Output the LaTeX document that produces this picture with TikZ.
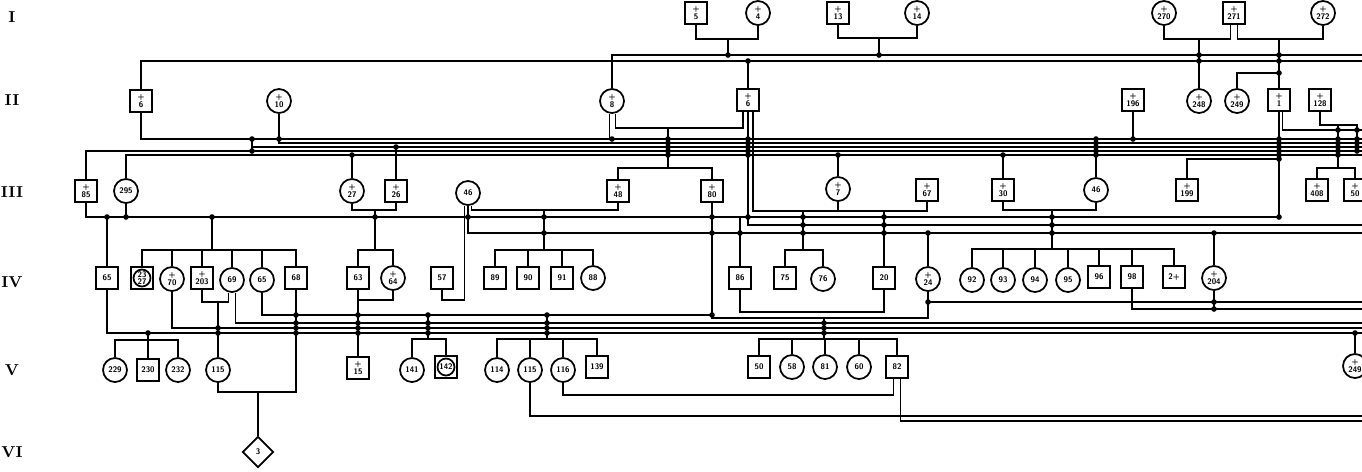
\documentclass[tikz,border=0pt]{standalone}
\usepackage{tikz}
\usetikzlibrary{positioning, shapes.geometric, calc}
\newcommand{\pedfont}{\fontsize{4.6}{4.2}\selectfont\bfseries\sffamily}

\begin{document}
\begin{tikzpicture}[
    x=0.02cm, y=-0.02cm,
    male/.style={draw, line width=1pt, minimum size=0.44cm, inner sep=0pt, font=\pedfont, align=center, fill=white},
    female/.style={draw, circle, line width=1pt, minimum size=0.48cm, inner sep=0pt, font=\pedfont, align=center, fill=white},
    unknown/.style={draw, diamond, aspect=1, line width=1pt, minimum size=0.62cm, inner sep=0pt, font=\pedfont, fill=white},
    gen/.style={font=\fontsize{9}{9}\selectfont\bfseries},
    line/.style={line width=0.95pt},
]
    \useasboundingbox (0,0) rectangle (1362,471);

    % Generations
    \node[gen] (gI)   at (12,17)  {I};
    \node[gen] (gII)  at (12,100) {II};
    \node[gen] (gIII) at (12,192) {III};
    \node[gen] (gIV)  at (12,282) {IV};
    \node[gen] (gV)   at (12,370) {V};
    \node[gen] (gVI)  at (12,452) {VI};

    % Buses (right edge) and junctions
    \foreach \n/\y in {ba/55, bb/61, bs/130, bc/139, bd/143, be/147, bf/151, bg/155,
                       bh/217, bi/225, bj/233, bk/302, bl/309, bn/323, bo/328, bp/333, bq/416, br/421}
        \coordinate (\n) at (1362,\y);
    \coordinate (bm) at (713,315);
    \coordinate (m1) at (728,39);
    \coordinate (m2) at (879,38);
    \coordinate (m3) at (1199,39);
    \coordinate (m4) at (1279,39);
    \coordinate (k1) at (1279,73);
    \coordinate (j1) at (252,139);
    \coordinate (m5) at (668,128);
    \coordinate (k2) at (668,168);
    \coordinate (k3) at (803,211);
    \coordinate (k4) at (1279,217);
    \coordinate (j2) at (212,217);
    \coordinate (j3) at (212,250);
    \coordinate (m6) at (375,210);
    \coordinate (j4) at (375,250);
    \coordinate (k5) at (544,210);
    \coordinate (j5) at (544,250);
    \coordinate (k6) at (455,300);
    \coordinate (j6) at (803,250);
    \coordinate (k7) at (812,312);
    \coordinate (k8) at (824,318);
    \coordinate (k9) at (824,339);
    \coordinate (k10) at (1052,210);
    \coordinate (j7) at (1052,249);
    \coordinate (k15) at (1279,159);
    \coordinate (k17) at (1357,125);
    \coordinate (k19) at (1357,153);
    \coordinate (k18) at (1338,168);
    \coordinate (m7) at (218,302);
    \coordinate (m8) at (375,300);
    \coordinate (j8) at (148,340);
    \coordinate (j9) at (428,339);
    \coordinate (j10) at (547,339);
    \coordinate (k13) at (258,392);
    \coordinate (k14) at (720,395);

    % Gen I
    \node[male]   (s5)   at (696,13)  {+\\5};
    \node[female] (c4)   at (758,13)  {+\\4};
    \node[male]   (s13)  at (838,13)  {+\\13};
    \node[female] (c14)  at (917,13)  {+\\14};
    \node[female] (c270) at (1164,13) {+\\270};
    \node[male]   (s271) at (1234,13) {+\\271};
    \node[female] (c272) at (1323,13) {+\\272};

    % Gen II
    \node[male]   (s16)  at (141,101)  {+\\6};
    \node[female] (c10)  at (279,101)  {+\\10};
    \node[female] (c8)   at (612,101)  {+\\8};
    \node[male]   (s6)   at (748,100)  {+\\6};
    \node[male]   (s196) at (1133,100) {+\\196};
    \node[female] (c248) at (1199,101) {+\\248};
    \node[female] (c249) at (1237,101) {+\\249};
    \node[male]   (s1)   at (1279,100) {+\\1};
    \node[male]   (s128) at (1320,100) {+\\128};

    % Gen III
    \node[male]   (s85)  at (86,191)   {+\\85};
    \node[female] (c295) at (126,191)  {295};
    \node[female] (c27)  at (352,191)  {+\\27};
    \node[male]   (s26)  at (396,191)  {+\\26};
    \node[female] (c46)  at (468,193)  {46};
    \node[male]   (s48)  at (618,191)  {+\\48};
    \node[male]   (s80)  at (712,191)  {+\\80};
    \node[female] (c7)   at (838,189)  {+\\7};
    \node[male]   (s67)  at (927,190)  {+\\67};
    \node[male]   (s30)  at (1003,190) {+\\30};
    \node[female] (c46b) at (1096,190) {46};
    \node[male]   (s199) at (1187,190) {+\\199};
    \node[male]   (s408) at (1317,190) {+\\408};
    \node[male]   (s50x) at (1355,190) {+\\50};

    % Gen IV
    \node[male]   (s65)  at (107,278)  {65};
    \node[male]   (s23)  at (142,278)  {};
    \node[female, minimum size=0.34cm] (s23c) at (s23) {23\\27};
    \node[female] (c70)  at (172,279)  {+\\70};
    \node[male]   (s203) at (202,278)  {+\\203};
    \node[female] (c69)  at (232,280)  {69};
    \node[female] (c65)  at (262,280)  {65};
    \node[male]   (s68)  at (296,278)  {68};
    \node[male]   (s63)  at (358,278)  {63};
    \node[female] (c64)  at (393,278)  {+\\64};
    \node[male]   (s57)  at (442,278)  {57};
    \node[male]   (s89)  at (495,278)  {89};
    \node[male]   (s90)  at (528,278)  {90};
    \node[male]   (s91)  at (562,278)  {91};
    \node[female] (c88)  at (593,278)  {88};
    \node[male]   (s86)  at (740,278)  {86};
    \node[male]   (s75)  at (785,278)  {75};
    \node[female] (c76)  at (823,279)  {76};
    \node[male]   (s20)  at (884,278)  {20};
    \node[female] (c24)  at (928,279)  {+\\24};
    \node[female] (c92)  at (972,280)  {92};
    \node[female] (c93)  at (1003,280) {93};
    \node[female] (c94)  at (1035,280) {94};
    \node[female] (c95)  at (1068,280) {95};
    \node[male]   (s96)  at (1099,277) {96};
    \node[male]   (s98)  at (1132,277) {98};
    \node[male]   (s2)   at (1174,277) {2+};
    \node[female] (c204) at (1214,278) {+\\204};

    % Gen V
    \node[female] (c229) at (115,370)  {229};
    \node[male]   (s230) at (148,370)  {230};
    \node[female] (c232) at (178,370)  {232};
    \node[female] (c115) at (218,370)  {115};
    \node[male]   (s15)  at (358,368)  {+\\15};
    \node[female] (c141) at (412,370)  {141};
    \node[male]   (s142) at (446,367)  {};
    \node[female, minimum size=0.34cm] (s142c) at (s142) {142};
    \node[female] (c114) at (497,370)  {114};
    \node[female] (c115b) at (530,370) {115};
    \node[female] (c116) at (563,370)  {116};
    \node[male]   (s139) at (597,367)  {139};
    \node[male]   (s50)  at (759,367)  {50};
    \node[female] (c58)  at (792,367)  {58};
    \node[female] (c81)  at (825,367)  {81};
    \node[female] (c60)  at (859,367)  {60};
    \node[male]   (s82)  at (897,367)  {82};
    \node[female] (c249b) at (1355,366) {+\\249};

    % Gen VI
    \node[unknown] (d3) at (258,452) {3};

    % I -> II
    \draw[line] (s5.south) |- (m1) -| (c4.south);
    \draw[line] (m1) -- (m1 |- ba);
    \draw[line] (s13.south) |- (m2) -| (c14.south);
    \draw[line] (m2) -- (m2 |- ba);
    \draw[line] (c270.south) |- (m3) -| ([xshift=-2pt]s271.south);
    \draw[line] ([xshift=2pt]s271.south) |- (m4) -| (c272.south);
    \draw[line] (m3) -- (c248.north);
    \draw[line] (m4) -- (s1.north);
    \draw[line] (k1) -| (c249.north);
    \draw[line] (c8.north) |- (ba);
    \draw[line] (s16.north) |- (bb);
    \draw[line] (s6.north) -- (s6.north |- bb);

    % II -> III
    \draw[line] (s16.south) |- (bc);
    \draw[line] (c10.south) |- (bd);
    \draw[line] (j1) -- (j1 |- bf);
    \draw[line] (j1 |- be) -- (be);
    \draw[line] (s85.north) |- (bf);
    \draw[line] (c295.north) |- (bg);
    \draw[line] (c27.north) -- (c27.north |- bg);
    \draw[line] (s26.north) -- (s26.north |- be);
    \draw[line] ([xshift=-1.5pt]c8.south) -- ([xshift=-1.5pt]c8.south |- bc);
    \draw[line] ([xshift=2pt]c8.south) |- (m5) -| ([xshift=-3pt]s6.south);
    \draw[line] (m5) -- (k2);
    \draw[line] (s48.north) |- (k2) -| (s80.north);
    \draw[line] (s6.south) |- (bi);
    \draw[line] ([xshift=3pt]s6.south) |- (k3) -| (s67.south);
    \draw[line] (c7.south) -- (c7.south |- k3);
    \draw[line] (c7.north) -- (c7.north |- bg);
    \draw[line] (s30.north) -- (s30.north |- bg);
    \draw[line] (c46b.north) -- (c46b.north |- bc);
    \draw[line] (s196.south) -- (s196.south |- bc);
    \draw[line] (s1.south) -- (k4);
    \draw[line] ([xshift=2pt]s1.south) |- (bs);
    \draw[line] (s199.north) |- (k15);
    \draw[line] (s128.south) |- (k17) -- (k19);
    \draw[line] (k18) -- (k18 |- k17);
    \draw[line] (s408.north) |- (k18) -| (s50x.north);

    % III -> IV
    \draw[line] (s85.south) |- (k4);
    \draw[line] (c295.south) -- (c295.south |- k4);
    \draw[line] (s65.north) -- (s65.north |- k4);
    \draw[line] (j2) -- (j3);
    \draw[line] (s23.north) |- (j3) -| (s68.north);
    \foreach \n in {c70, s203, c69, c65}
        \draw[line] (\n.north) -- (\n.north |- j3);
    \draw[line] (c27.south) |- (m6) -| (s26.south);
    \draw[line] (m6) -- (j4);
    \draw[line] (s63.north) |- (j4) -| (c64.north);
    \draw[line] ([xshift=2pt]c46.south) |- (k5) -| (s48.south);
    \draw[line] (k5) -- (j5);
    \draw[line] (s89.north) |- (j5) -| (c88.north);
    \foreach \n in {s90, s91}
        \draw[line] (\n.north) -- (\n.north |- j5);
    \draw[line] (c46.south) |- (bj);
    \draw[line] (s57.south) |- (k6) -| ([xshift=-2pt]c46.south);
    \draw[line] (k3) -- (j6);
    \draw[line] (s75.north) |- (j6) -| (c76.north);
    \draw[line] (s20.north) -- (s20.north |- k3);
    \draw[line] (s86.north) -- (s86.north |- k4);
    \draw[line] (c24.north) -- (c24.north |- bj);
    \draw[line] (s30.south) |- (k10) -| (c46b.south);
    \draw[line] (k10) -- (j7);
    \draw[line] (c92.north) |- (j7) -| (s2.north);
    \foreach \n in {c93, c94, c95, s96, s98}
        \draw[line] (\n.north) -- (\n.north |- j7);
    \draw[line] (c204.north) -- (c204.north |- bj);

    % IV -> V
    \draw[line] (s80.south) |- (k8) -| (c24.south);
    \draw[line] (s86.south) |- (k7) -| (s20.south);
    \draw[line] (c24.south) |- (bk);
    \draw[line] (s98.south) |- (bl);
    \draw[line] (c204.south) -- (c204.south |- bl);
    \draw[line] (c65.south) |- (bm);
    \draw[line] ([xshift=2pt]c69.south) |- (bn);
    \draw[line] (s203.south) |- (m7) -| ([xshift=-2pt]c69.south);
    \draw[line] (m7) -- (c115.north);
    \draw[line] (c70.south) |- (bo);
    \draw[line] (s65.south) |- (bp);
    \draw[line] (s63.south) |- (m8) -| (c64.south);
    \draw[line] (s63.south) -- (s15.north);
    \draw[line] (j8 |- bp) -- (j8);
    \draw[line] (c229.north) |- (j8) -| (c232.north);
    \draw[line] (s230.north) -- (s230.north |- j8);
    \draw[line] (j9 |- bm) -- (j9);
    \draw[line] (c141.north) |- (j9) -| (s142.north);
    \draw[line] (j10 |- bm) -- (j10);
    \draw[line] (c114.north) |- (j10) -| (s139.north);
    \foreach \n in {c115b, c116}
        \draw[line] (\n.north) -- (\n.north |- j10);
    \draw[line] (k8) -- (k9);
    \draw[line] (s50.north) |- (k9) -| (s82.north);
    \foreach \n in {c58, c81, c60}
        \draw[line] (\n.north) -- (\n.north |- k9);
    \draw[line] (c249b.north) -- (c249b.north |- bp);

    % V -> VI
    \draw[line] (c115.south) |- (k13) -| (s68.south);
    \draw[line] (k13) -- (d3.north);
    \draw[line] (c116.south) |- (k14) -| ([xshift=-2pt]s82.south);
    \draw[line] (c115b.south) |- (bq);
    \draw[line] ([xshift=2pt]s82.south) |- (br);

    % Junction dots
    \foreach \a/\b in {m1/ba, m2/ba, m3/ba, m3/bb, m4/ba, m4/bb, k1/k1, s6.north/bb,
        c10.south/bc, j1/bc, j1/bf, c8.south/bc, m5/bc, m5/bd, m5/be, m5/bf, m5/bg,
        s6.south/bc, s6.south/bd, s6.south/be, s6.south/bf, s6.south/bg, s6.south/bh,
        c27.north/bg, s26.north/be, c7.north/bg, s30.north/bg,
        c46b.north/bc, c46b.north/bd, c46b.north/be, c46b.north/bf, c46b.north/bg, s196.south/bc,
        s1.south/bc, s1.south/bd, s1.south/be, s1.south/bf, s1.south/bg, k15/k15,
        k18/bs, k18/bc, k18/bd, k18/be, k18/bf, k18/bg, k17/bs, k17/bc, k17/bd, k17/be, k17/bf,
        c295.south/bh, s65.north/bh, j2/j2, m6/bh, k5/bh, k5/bj, c46.south/bh,
        s80.south/bh, s80.south/bj, s86.north/bj, k3/bh, k3/bi, k3/bj,
        s20.north/bh, s20.north/bi, s20.north/bj, c24.north/bj, k10/bh, k10/bi, k10/bj,
        c204.north/bj, k4/k4,
        s63.south/bm, s63.south/bn, s63.south/bo, s63.south/bp, j9/bm, j9/bn, j9/bo, j9/bp,
        j10/bm, j10/bn, j10/bo, j10/bp, m7/bo, m7/bp, s68.south/bm, s68.south/bn, s68.south/bo, s68.south/bp,
        k8/bn, k8/bo, k8/bp, c24.south/bk, c204.south/bk, c204.south/bl, j8/bp, c249b.north/bp, s80.south/bm}
        \fill (\a |- \b) circle (1.6pt);

\end{tikzpicture}
\end{document}
